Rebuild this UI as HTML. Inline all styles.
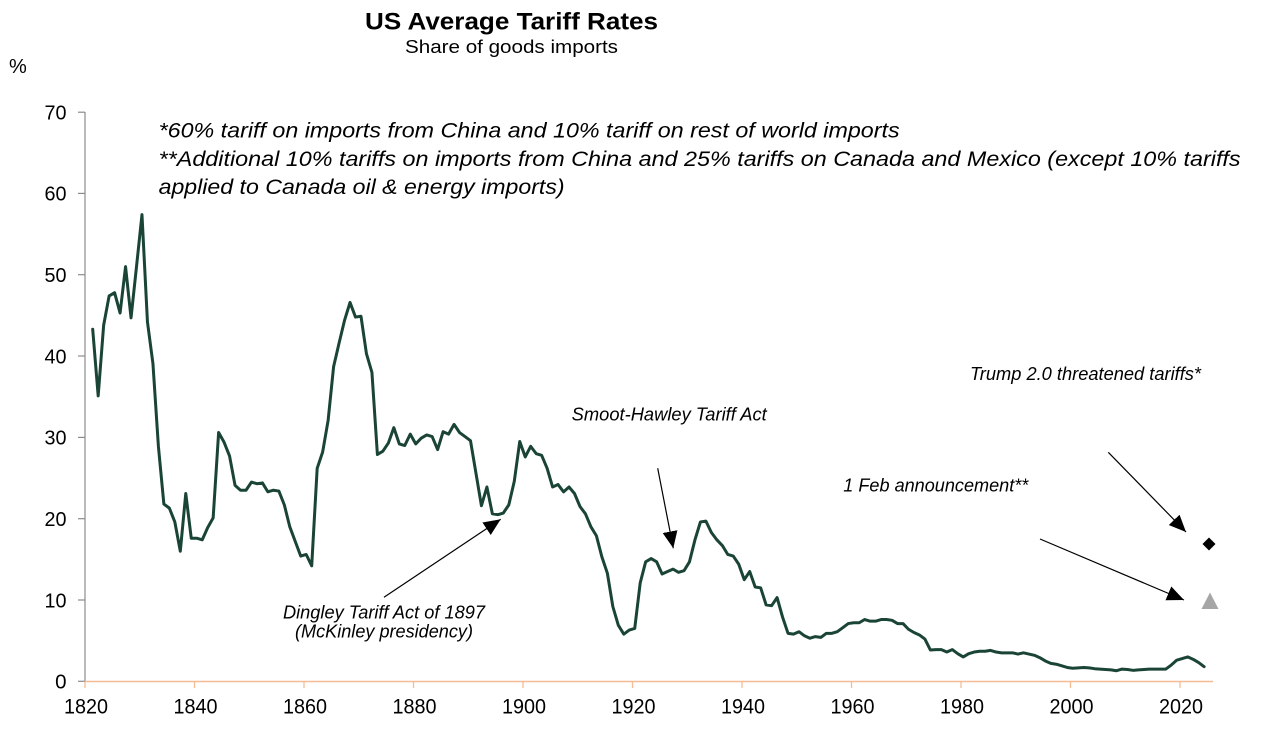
<!DOCTYPE html>
<html>
<head>
<meta charset="utf-8">
<style>
  html, body { margin: 0; padding: 0; background: #ffffff; }
  body { width: 1280px; height: 737px; overflow: hidden; }
  svg { display: block; }
  text { font-family: "Liberation Sans", Arial, sans-serif; fill: #000; }
  .it { font-style: italic; }
</style>
</head>
<body>
<svg width="1280" height="737" viewBox="0 0 1280 737" xmlns="http://www.w3.org/2000/svg">
  <defs>
    <marker id="ah" viewBox="0 0 17 15" refX="17" refY="7.5" markerWidth="17" markerHeight="15" markerUnits="userSpaceOnUse" orient="auto">
      <path d="M0,0 L17,7.5 L0,15 z" fill="#000"/>
    </marker>
  </defs>

  <!-- Title -->
  <text x="511.5" y="29.5" text-anchor="middle" font-size="24" font-weight="bold" textLength="293" lengthAdjust="spacingAndGlyphs">US Average Tariff Rates</text>
  <text x="511.5" y="53" text-anchor="middle" font-size="18.5" textLength="213" lengthAdjust="spacingAndGlyphs">Share of goods imports</text>

  <!-- % unit -->
  <text x="9" y="73" font-size="20">%</text>

  <!-- Notes -->
  <text class="it" x="158.6" y="137.5" font-size="21.5" textLength="741" lengthAdjust="spacingAndGlyphs">*60% tariff on imports from China and 10% tariff on rest of world imports</text>
  <text class="it" x="158.6" y="166" font-size="21.5" textLength="1082" lengthAdjust="spacingAndGlyphs">**Additional 10% tariffs on imports from China and 25% tariffs on Canada and Mexico (except 10% tariffs</text>
  <text class="it" x="158.6" y="194" font-size="21.5" textLength="406" lengthAdjust="spacingAndGlyphs">applied to Canada oil &amp; energy imports)</text>

  <!-- Y axis -->
  <line x1="85" y1="112" x2="85" y2="681.5" stroke="#8c8c8c" stroke-width="1.2"/>
  <g stroke="#8c8c8c" stroke-width="1.2">
    <line x1="78" y1="112.2" x2="85" y2="112.2"/>
    <line x1="78" y1="193.4" x2="85" y2="193.4"/>
    <line x1="78" y1="274.7" x2="85" y2="274.7"/>
    <line x1="78" y1="356" x2="85" y2="356"/>
    <line x1="78" y1="437.4" x2="85" y2="437.4"/>
    <line x1="78" y1="518.7" x2="85" y2="518.7"/>
    <line x1="78" y1="600" x2="85" y2="600"/>
    <line x1="78" y1="681.3" x2="85" y2="681.3"/>
  </g>
  <g font-size="20.5" text-anchor="end">
    <text x="66.5" y="119.5" textLength="22" lengthAdjust="spacingAndGlyphs">70</text>
    <text x="66.5" y="200.7" textLength="22" lengthAdjust="spacingAndGlyphs">60</text>
    <text x="66.5" y="282" textLength="22" lengthAdjust="spacingAndGlyphs">50</text>
    <text x="66.5" y="363.3" textLength="22" lengthAdjust="spacingAndGlyphs">40</text>
    <text x="66.5" y="444.7" textLength="22" lengthAdjust="spacingAndGlyphs">30</text>
    <text x="66.5" y="526" textLength="22" lengthAdjust="spacingAndGlyphs">20</text>
    <text x="66.5" y="607.3" textLength="22" lengthAdjust="spacingAndGlyphs">10</text>
    <text x="66.5" y="688.6">0</text>
  </g>

  <!-- X axis -->
  <line x1="85" y1="681.5" x2="1213" y2="681.5" stroke="#f5bc94" stroke-width="1.4"/>
  <g stroke="#f5bc94" stroke-width="1.3">
    <line x1="85" y1="681.5" x2="85" y2="688"/>
    <line x1="194.5" y1="681.5" x2="194.5" y2="688"/>
    <line x1="304" y1="681.5" x2="304" y2="688"/>
    <line x1="413.5" y1="681.5" x2="413.5" y2="688"/>
    <line x1="523" y1="681.5" x2="523" y2="688"/>
    <line x1="632.5" y1="681.5" x2="632.5" y2="688"/>
    <line x1="742" y1="681.5" x2="742" y2="688"/>
    <line x1="851.5" y1="681.5" x2="851.5" y2="688"/>
    <line x1="961" y1="681.5" x2="961" y2="688"/>
    <line x1="1070.5" y1="681.5" x2="1070.5" y2="688"/>
    <line x1="1180" y1="681.5" x2="1180" y2="688"/>
  </g>
  <g font-size="21" text-anchor="middle">
    <text x="86" y="713.5" textLength="44" lengthAdjust="spacingAndGlyphs">1820</text>
    <text x="195.5" y="713.5" textLength="44" lengthAdjust="spacingAndGlyphs">1840</text>
    <text x="305" y="713.5" textLength="44" lengthAdjust="spacingAndGlyphs">1860</text>
    <text x="414.5" y="713.5" textLength="44" lengthAdjust="spacingAndGlyphs">1880</text>
    <text x="524" y="713.5" textLength="44" lengthAdjust="spacingAndGlyphs">1900</text>
    <text x="633.5" y="713.5" textLength="44" lengthAdjust="spacingAndGlyphs">1920</text>
    <text x="743" y="713.5" textLength="44" lengthAdjust="spacingAndGlyphs">1940</text>
    <text x="852.5" y="713.5" textLength="44" lengthAdjust="spacingAndGlyphs">1960</text>
    <text x="962" y="713.5" textLength="44" lengthAdjust="spacingAndGlyphs">1980</text>
    <text x="1071.5" y="713.5" textLength="44" lengthAdjust="spacingAndGlyphs">2000</text>
    <text x="1181" y="713.5" textLength="44" lengthAdjust="spacingAndGlyphs">2020</text>
  </g>

  <!-- Data series -->
  <polyline transform="matrix(5.475,0,0,-8.13,92.7,681.3)" fill="none" stroke="#1a4436" stroke-width="3" stroke-linejoin="round" stroke-linecap="round" vector-effect="non-scaling-stroke"
    points="0,43.3 1,35.1 2,43.8 3,47.4 4,47.8 5,45.3 6,51 7,44.7 8,51 9,57.4 10,44.2 11,39.1 12,28.9 13,21.8 14,21.3 15,19.6 16,16 17,23.1 18,17.6 19,17.6 20,17.4 21,18.9 22,20.1 23,30.6 24,29.4 25,27.7 26,24.1 27,23.5 28,23.5 29,24.5 30,24.3 31,24.4 32,23.3 33,23.5 34,23.4 35,21.7 36,19 37,17.2 38,15.4 39,15.6 40,14.2 41,26.2 42,28.2 43,32.1 44,38.7 45,41.6 46,44.4 47,46.6 48,44.8 49,44.9 50,40.3 51,38 52,27.9 53,28.3 54,29.3 55,31.2 56,29.2 57,29 58,30.4 59,29.2 60,29.9 61,30.3 62,30.1 63,28.5 64,30.7 65,30.4 66,31.6 67,30.6 68,30.1 69,29.6 70,25.6 71,21.6 72,23.9 73,20.6 74,20.5 75,20.7 76,21.7 77,24.6 78,29.5 79,27.6 80,28.9 81,28 82,27.8 83,26.2 84,23.9 85,24.2 86,23.3 87,23.9 88,23.1 89,21.5 90,20.6 91,19 92,17.9 93,15.3 94,13.3 95,9.2 96,6.9 97,5.8 98,6.3 99,6.5 100,12.1 101,14.7 102,15.1 103,14.7 104,13.2 105,13.5 106,13.8 107,13.4 108,13.6 109,14.7 110,17.4 111,19.6 112,19.7 113,18.3 114,17.4 115,16.7 116,15.6 117,15.4 118,14.4 119,12.5 120,13.5 121,11.6 122,11.5 123,9.4 124,9.3 125,10.3 126,7.9 127,5.9 128,5.8 129,6.1 130,5.6 131,5.3 132,5.5 133,5.4 134,5.9 135,5.9 136,6.1 137,6.6 138,7.1 139,7.2 140,7.2 141,7.6 142,7.4 143,7.4 144,7.6 145,7.6 146,7.5 147,7.1 148,7.1 149,6.4 150,6 151,5.7 152,5.2 153,3.85 154,3.9 155,3.9 156,3.6 157,3.9 158,3.4 159,3 160,3.4 161,3.6 162,3.7 163,3.7 164,3.8 165,3.6 166,3.5 167,3.5 168,3.5 169,3.35 170,3.5 171,3.35 172,3.2 173,2.9 174,2.5 175,2.2 176,2.1 177,1.9 178,1.7 179,1.6 180,1.65 181,1.7 182,1.65 183,1.55 184,1.5 185,1.45 186,1.4 187,1.3 188,1.5 189,1.45 190,1.35 191,1.4 192,1.45 193,1.5 194,1.5 195,1.5 196,1.5 197,2 198,2.6 199,2.8 200,3 201,2.7 202,2.3 203,1.8"/>

  <!-- Markers -->
  <polygon points="1209,537.5 1215.5,544 1209,550.5 1202.5,544" fill="#000"/>
  <polygon points="1210,592.5 1218.5,609 1201.5,609" fill="#a6a6a6"/>

  <!-- Annotations -->
  <text class="it" x="571.7" y="420.7" font-size="18" textLength="195" lengthAdjust="spacingAndGlyphs">Smoot-Hawley Tariff Act</text>
  <line x1="657.7" y1="468.3" x2="673.3" y2="548.3" stroke="#000" stroke-width="1.2" marker-end="url(#ah)"/>

  <text class="it" x="384" y="618.3" font-size="18" text-anchor="middle" textLength="202" lengthAdjust="spacingAndGlyphs">Dingley Tariff Act of 1897</text>
  <text class="it" x="384" y="637.3" font-size="18" text-anchor="middle" textLength="178" lengthAdjust="spacingAndGlyphs">(McKinley presidency)</text>
  <line x1="384" y1="597.3" x2="500.7" y2="519.3" stroke="#000" stroke-width="1.2" marker-end="url(#ah)"/>

  <text class="it" x="970" y="380" font-size="18" textLength="231" lengthAdjust="spacingAndGlyphs">Trump 2.0 threatened tariffs*</text>
  <line x1="1108.3" y1="452.3" x2="1186" y2="532" stroke="#000" stroke-width="1.2" marker-end="url(#ah)"/>

  <text class="it" x="843.3" y="491.7" font-size="18" textLength="185" lengthAdjust="spacingAndGlyphs">1 Feb announcement**</text>
  <line x1="1040" y1="539" x2="1184" y2="600" stroke="#000" stroke-width="1.2" marker-end="url(#ah)"/>
</svg>
</body>
</html>
